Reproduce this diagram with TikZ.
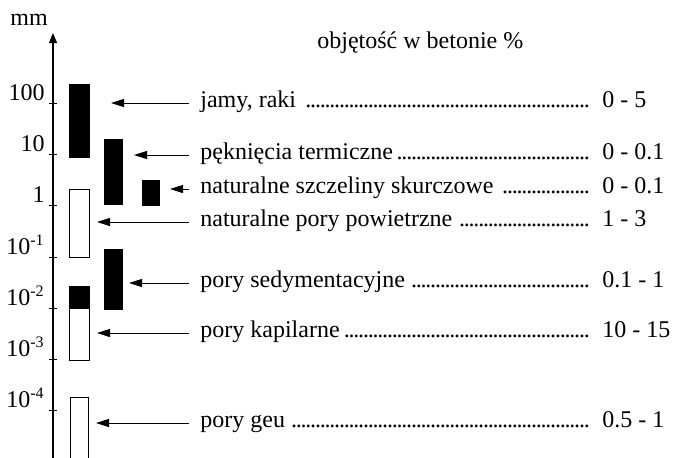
\documentclass[tikz,border=0pt]{standalone}
\usepackage{fontspec}
\setmainfont{Liberation Serif}
\usetikzlibrary{arrows.meta}
% dot leaders filling the rest of a fixed-width box
\newcommand\dotrule{\leaders\hbox to 0.2em{\hss.\hss}\hfill}
\begin{document}
\begin{tikzpicture}[x=0.5pt,y=-0.5pt,
  font=\fontsize{12}{14}\selectfont,
  barblack/.style={fill=black,draw=black,line width=0.5pt},
  barwhite/.style={fill=white,draw=black,line width=0.5pt},
  lbl/.style={anchor=west,inner xsep=5.5pt,inner ysep=0pt,text height=0.7em,text depth=0.25em},
  num/.style={anchor=west,inner sep=0pt,text height=0.7em,text depth=0.25em},
  ticklbl/.style={anchor=base east,inner sep=0pt},
  arr/.style={line width=0.5pt,-{Triangle[length=6.5pt,width=4pt]}},
  tickmark/.style={line width=0.5pt}]
\useasboundingbox (0,0) rectangle (680,457);

% axis
\coordinate (axbot) at (53,470);
\coordinate (axtop) at (53,33);
\draw[line width=0.6pt,-{Triangle[length=5pt,width=4pt]}] (axbot) -- (axtop);
\node[anchor=west,inner sep=0pt,text height=0.7em,text depth=0.25em] (unit) at (10,21) {mm};
\node[anchor=west,inner sep=0pt,text height=0.7em,text depth=0.25em] (title) at (317,44) {objętość w betonie \%};

% ticks and their labels
\foreach \yy/\txt in {103/100, 154/10, 205/1, 257/10\textsuperscript{-1},
                      308/10\textsuperscript{-2}, 359/10\textsuperscript{-3},
                      410/10\textsuperscript{-4}}{
  \draw[tickmark] (49,\yy) -- (57,\yy);
  \node[ticklbl] at (45,\yy-3) {\txt};
}

% size ranges
\draw[barblack] (69,84) rectangle (89,157);
\draw[barblack] (104,139) rectangle (122,204);
\draw[barblack] (142,180) rectangle (159,205);
\draw[barwhite] (69,189) rectangle (89,257);
\draw[barblack] (104,249) rectangle (122,309);
\draw[barwhite] (69,308) rectangle (89,360);
\draw[barblack] (69,286) rectangle (89,308);
\draw[barwhite] (70,397) rectangle (88,470);

% arrow targets
\coordinate (t1) at (111,103);
\coordinate (t2) at (134,155);
\coordinate (t3) at (170,189);
\coordinate (t4) at (97,222);
\coordinate (t5) at (129,283);
\coordinate (t6) at (97,333);
\coordinate (t7) at (96,423);

% descriptions with leaders
\node[lbl] (l1) at (189,103) {\hbox to 195pt{jamy, raki \dotrule}};
\node[lbl] (l2) at (189,155) {\hbox to 195pt{pęknięcia termiczne\dotrule}};
\node[lbl] (l3) at (189,189) {\hbox to 195pt{naturalne szczeliny skurczowe \dotrule}};
\node[lbl] (l4) at (189,222) {\hbox to 195pt{naturalne pory powietrzne \dotrule}};
\node[lbl] (l5) at (189,283) {\hbox to 195pt{pory sedymentacyjne \dotrule}};
\node[lbl] (l6) at (189,333) {\hbox to 195pt{pory kapilarne\dotrule}};
\node[lbl] (l7) at (189,423) {\hbox to 195pt{pory geu \dotrule}};

% volume shares
\node[num] (n1) at (602,103) {0 - 5};
\node[num] (n2) at (602,155) {0 - 0.1};
\node[num] (n3) at (602,189) {0 - 0.1};
\node[num] (n4) at (602,222) {1 - 3};
\node[num] (n5) at (602,283) {0.1 - 1};
\node[num] (n6) at (602,333) {10 - 15};
\node[num] (n7) at (602,423) {0.5 - 1};

% pointers
\foreach \i in {1,...,7}{
  \draw[arr] (l\i.west) -- (t\i);
}
\end{tikzpicture}
\end{document}
